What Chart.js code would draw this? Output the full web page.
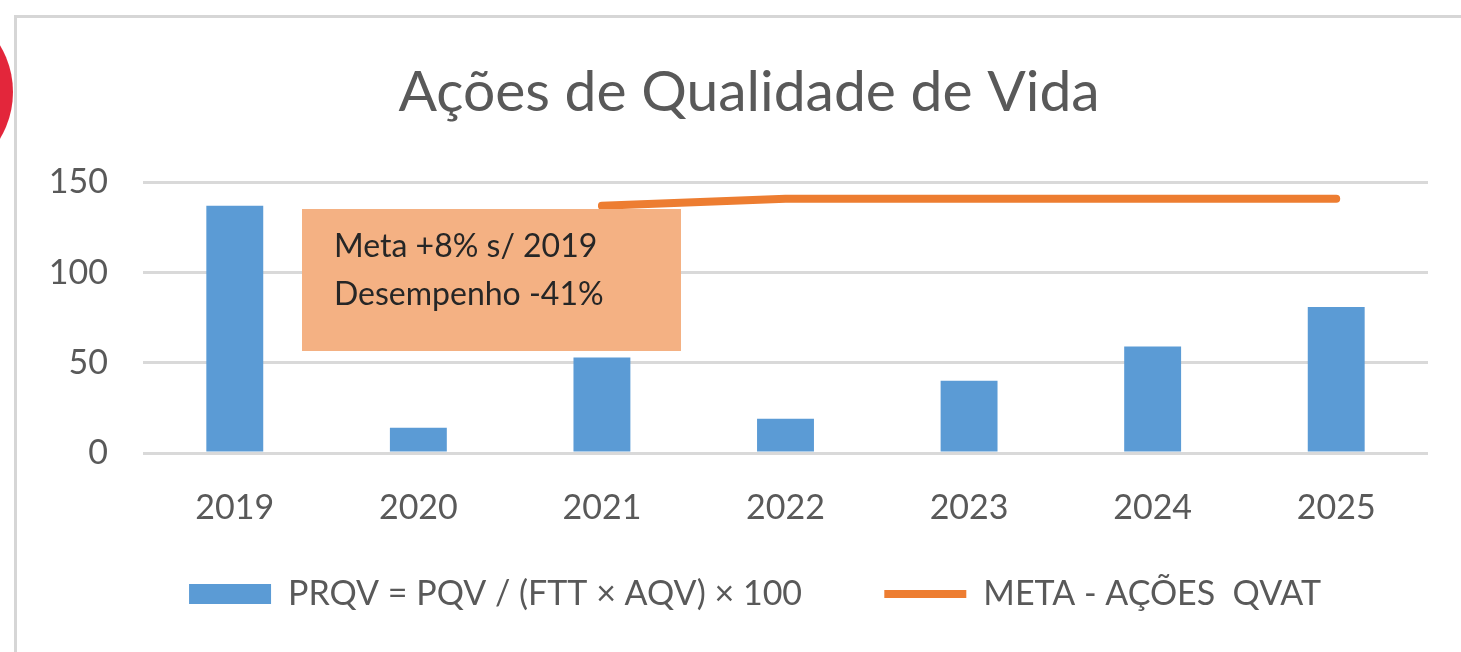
<!DOCTYPE html>
<html>
<head>
<meta charset="utf-8">
<script src="https://cdn.jsdelivr.net/npm/chart.js@4/dist/chart.umd.min.js"></script>
<style>
  html, body { margin: 0; padding: 0; background: #fff; overflow: hidden; }
  #frame { position: absolute; left: 14px; top: 15px; width: 1500px; height: 700px;
           border-left: 3px solid #d6d6d6; border-top: 3px solid #d6d6d6; }
  #dot { position: absolute; left: -169px; top: 1px; width: 182px; height: 182px;
         border-radius: 50%; background: #e3263b; }
  #chart { position: absolute; left: 0; top: 0; }
</style>
</head>
<body>
<div id="frame"></div>
<div id="dot"></div>
<canvas id="chart" width="1461" height="652"></canvas>
<script>
// valeurs
const years = ['2019', '2020', '2021', '2022', '2023', '2024', '2025'];
const prqv = [137, 14, 53, 19, 40, 59, 81];
const meta = [null, null, 137, 141, 141, 141, 141];
const yTicks = [0, 50, 100, 150];
const noteLines = ['Meta +8% s/ 2019', 'Desempenho -41%'];

const FONT = 'Lato, "Open Sans", sans-serif';
const GREY = '#595959';

// encadré orange par-dessus les barres
const noteBox = {
  id: 'noteBox',
  afterDatasetsDraw(chart) {
    const ctx = chart.ctx;
    ctx.save();
    ctx.fillStyle = '#f4b183';
    ctx.fillRect(302, 209, 379, 142);
    ctx.fillStyle = '#262626';
    ctx.font = '32px ' + FONT;
    ctx.textBaseline = 'middle';
    ctx.fillText(noteLines[0], 334, 247);
    ctx.fillText(noteLines[1], 334, 295);
    ctx.restore();
  }
};

new Chart(document.getElementById('chart'), {
  data: {
    labels: years,
    datasets: [{
      type: 'line',
      label: 'META - AÇÕES  QVAT',
      data: meta,
      borderColor: '#ed7d31',
      backgroundColor: '#ed7d31',
      borderWidth: 8,
      borderCapStyle: 'round',
      pointRadius: 0,
      pointStyle: 'line',
      tension: 0,
      order: 1
    }, {
      type: 'bar',
      label: 'PRQV = PQV / (FTT × AQV) × 100',
      data: prqv,
      backgroundColor: '#5b9bd5',
      categoryPercentage: 1,
      barPercentage: 0.31,
      pointStyle: 'rect',
      order: 2
    }]
  },
  options: {
    responsive: false,
    animation: false,
    devicePixelRatio: 1,
    layout: { padding: { left: 0, right: 33, top: 0, bottom: 31 } },
    plugins: {
      title: {
        display: true,
        fullSize: false,
        // espaces finaux : décale le titre un peu vers la gauche, comme dans Excel
        text: 'Ações de Qualidade de Vida     ',
        color: GREY,
        font: { family: FONT, size: 57, weight: 'normal' },
        padding: { top: 58, bottom: 56 }
      },
      legend: {
        position: 'bottom',
        fullSize: false,
        reverse: true,
        labels: {
          usePointStyle: true,
          pointStyleWidth: 82,
          boxHeight: 20,
          padding: 30,
          color: GREY,
          font: { family: FONT, size: 34 },
          generateLabels(chart) {
            const items = Chart.defaults.plugins.legend.labels.generateLabels(chart);
            items.forEach(it => {
              if (it.datasetIndex === 1) it.text += '      ';
              else it.text += '       ';
            });
            return items;
          }
        }
      },
      tooltip: { enabled: false }
    },
    scales: {
      x: {
        grid: { display: false, drawTicks: false },
        border: { display: false },
        ticks: { color: GREY, font: { family: FONT, size: 34 }, padding: 35 },
        afterFit(scale) { scale.height = 94; }
      },
      y: {
        min: 0,
        max: 150,
        afterBuildTicks(scale) { scale.ticks = yTicks.map(v => ({ value: v })); },
        grid: { color: '#d9d9d9', lineWidth: 3, drawTicks: false },
        border: { display: false },
        ticks: { color: GREY, font: { family: FONT, size: 34 }, padding: 35 },
        afterFit(scale) { scale.width = 143; }
      }
    }
  },
  plugins: [noteBox]
});
</script>
</body>
</html>
